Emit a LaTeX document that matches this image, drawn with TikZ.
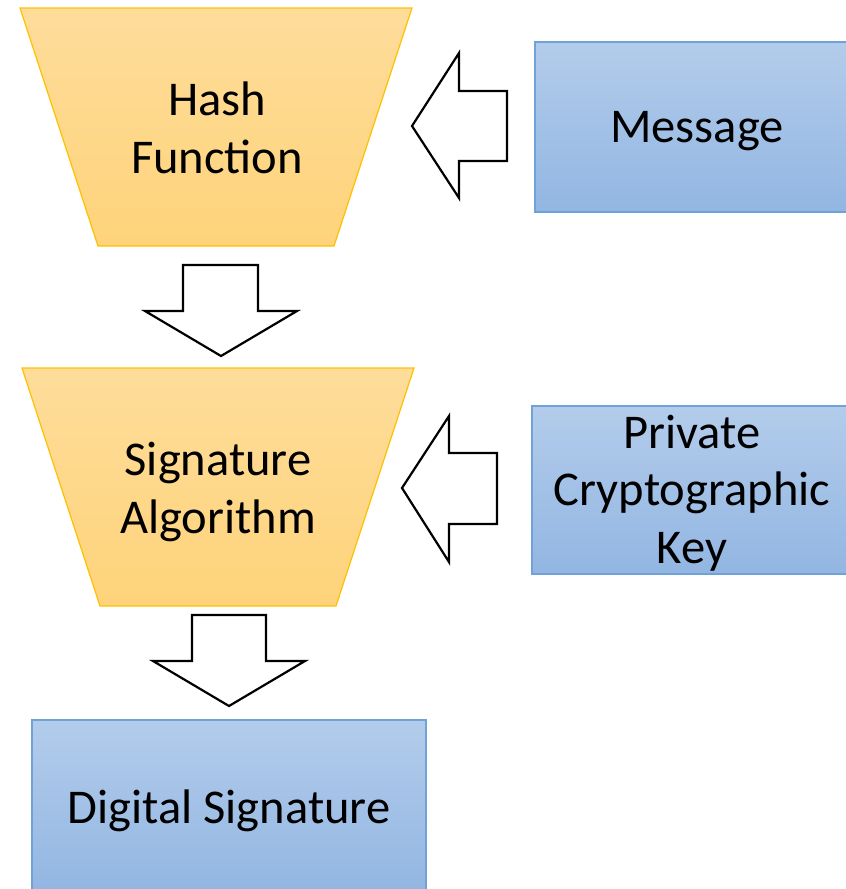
\documentclass[tikz,border=0pt]{standalone}
\usepackage{fontspec}
\setmainfont{Carlito}
\definecolor{goldtop}{RGB}{254,221,155}
\definecolor{goldbot}{RGB}{254,211,122}
\definecolor{goldline}{RGB}{255,192,0}
\definecolor{bluetop}{RGB}{179,204,235}
\definecolor{bluebot}{RGB}{146,182,226}
\definecolor{blueline}{RGB}{112,162,216}
\begin{document}
\begin{tikzpicture}[x=1pt,y=-1pt,
  funnel/.style={draw=goldline,line width=1.2pt,top color=goldtop,bottom color=goldbot},
  inbox/.style={draw=blueline,line width=1.6pt,top color=bluetop,bottom color=bluebot},
  blockarrow/.style={draw=black,line width=2.2pt,fill=white,line join=miter},
  label/.style={font=\fontsize{48.5}{57.5}\selectfont,align=center,inner sep=0pt}]
\useasboundingbox (0,0) rectangle (846,889);

% funnels
\draw[funnel] (20,8) -- (412,8) -- (334,246) -- (98,246) -- cycle;
\draw[funnel] (22,368) -- (414,368) -- (336,606) -- (100,606) -- cycle;

% input and output boxes
\draw[inbox] (535,42) rectangle (850,212);
\draw[inbox] (532,406) rectangle (850,574);
\draw[inbox] (32,720) rectangle (426,893);

% labels
\node[label] (hash) at (217,128) {Hash\\Function};
\node[label] (sig) at (218,492) {Signature\\Algorithm};
\node[label] (msg) at (697,131) {Message};
\node[label] (key) at (692,493) {Private\\Cryptographic\\Key};
\node[label] (dsig) at (229,811) {Digital Signature};

% block arrows
\draw[blockarrow] (412,126) -- (459,53) -- (459,91) -- (507,91) -- (507,161)
  -- (459,161) -- (459,198) -- cycle;
\draw[blockarrow] (402,488) -- (449,416) -- (449,453) -- (497,453) -- (497,524)
  -- (449,524) -- (449,562) -- cycle;
\draw[blockarrow] (183,265) -- (258,265) -- (258,311) -- (297,311) -- (221,356)
  -- (145,311) -- (183,311) -- cycle;
\draw[blockarrow] (192,615) -- (266,615) -- (266,661) -- (305,661) -- (229,706)
  -- (153,661) -- (192,661) -- cycle;
\end{tikzpicture}
\end{document}
